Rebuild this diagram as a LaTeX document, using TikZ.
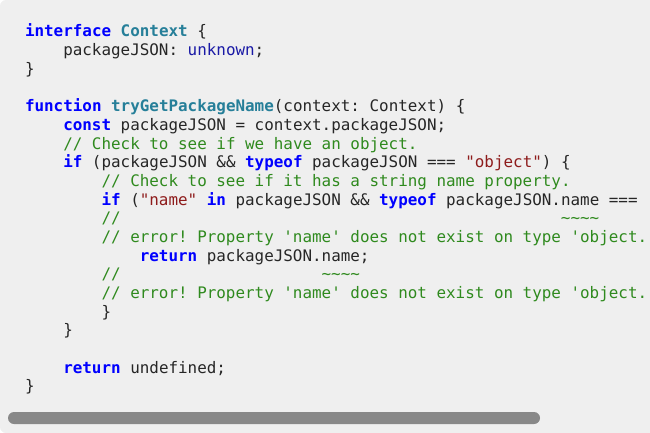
\documentclass[tikz,border=0pt]{standalone}
\usepackage{fontspec}
\setmonofont{DejaVu Sans Mono}
\usepackage{tikz}

\definecolor{bggray}{HTML}{EFEFEF}
\definecolor{barGray}{HTML}{888888}
\definecolor{kwBlue}{HTML}{0000FF}
\definecolor{typeBlue}{HTML}{1A1AA6}
\definecolor{teal}{HTML}{267F99}
\definecolor{cmGreen}{HTML}{2F8A1E}
\definecolor{strRed}{HTML}{8E1C1C}
\definecolor{plain}{HTML}{262626}

\newcommand{\kw}[1]{\textcolor{kwBlue}{\bfseries #1}}
\newcommand{\ty}[1]{\textcolor{teal}{\bfseries #1}}
\newcommand{\un}[1]{\textcolor{typeBlue}{#1}}
\newcommand{\cm}[1]{\textcolor{cmGreen}{#1}}
\newcommand{\str}[1]{\textcolor{strRed}{#1}}
\newcommand{\cw}{9.57}
\newcommand{\lh}{18.68}

\begin{document}
\begin{tikzpicture}[
            x = 1pt,
            y = -1pt,
            code/.style = {
                anchor = base west,
                inner sep = 0pt,
                outer sep = 0pt,
                text = plain,
                font = \ttfamily\fontsize{15.9}{18.68}\selectfont\frenchspacing
            },
            squiggle/.style = {
                code,
                text = cmGreen
            }
            ]
            \useasboundingbox (0,0) rectangle (650,433);
            \fill[bggray, rounded corners=6pt] (0,0) rectangle (20,433);
            \fill[bggray] (8,0) rectangle (650,433);

            \node[code] (l1) at (25, 37) {\kw{interface} \ty{Context} \{};
            \node[code] (l2) at ({25+4*\cw}, {37+1*\lh}) {packageJSON: \un{unknown};};
            \node[code] (l3) at (25, {37+2*\lh}) {\}};

            \node[code] (l5) at (25, {37+4*\lh}) {\kw{function} \ty{tryGetPackageName}(context: Context) \{};
            \node[code] (l6) at ({25+4*\cw}, {37+5*\lh}) {\kw{const} packageJSON = context.packageJSON;};
            \node[code] (l7) at ({25+4*\cw}, {37+6*\lh}) {\cm{// Check to see if we have an object.}};
            \node[code] (l8) at ({25+4*\cw}, {37+7*\lh}) {\kw{if} (packageJSON \&\& \kw{typeof} packageJSON === \str{"object"}) \{};
            \node[code] (l9) at ({25+8*\cw}, {37+8*\lh}) {\cm{// Check to see if it has a string name property.}};
            \node[code] (l10) at ({25+8*\cw}, {37+9*\lh}) {\kw{if} (\str{"name"} \kw{in} packageJSON \&\& \kw{typeof} packageJSON.name ===};
            \node[code] (l11) at ({25+8*\cw}, {37+10*\lh}) {\cm{//}};
            \node[squiggle] (sq1) at ({25+56*\cw}, {37+10*\lh}) {\string~\string~\string~\string~};
            \node[code] (l12) at ({25+8*\cw}, {37+11*\lh}) {\cm{// error! Property 'name' does not exist on type 'object.}};
            \node[code] (l13) at ({25+12*\cw}, {37+12*\lh}) {\kw{return} packageJSON.name;};
            \node[code] (l14) at ({25+8*\cw}, {37+13*\lh}) {\cm{//}};
            \node[squiggle] (sq2) at ({25+31*\cw}, {37+13*\lh}) {\string~\string~\string~\string~};
            \node[code] (l15) at ({25+8*\cw}, {37+14*\lh}) {\cm{// error! Property 'name' does not exist on type 'object.}};
            \node[code] (l16) at ({25+8*\cw}, {37+15*\lh}) {\}};
            \node[code] (l17) at ({25+4*\cw}, {37+16*\lh}) {\}};

            \node[code] (l19) at ({25+4*\cw}, {37+18*\lh}) {\kw{return} undefined;};
            \node[code] (l20) at (25, {37+19*\lh}) {\}};

            % scrollbar
            \fill[barGray, rounded corners=6pt] (8,412) rectangle (540,424);
        \end{tikzpicture}
\end{document}
